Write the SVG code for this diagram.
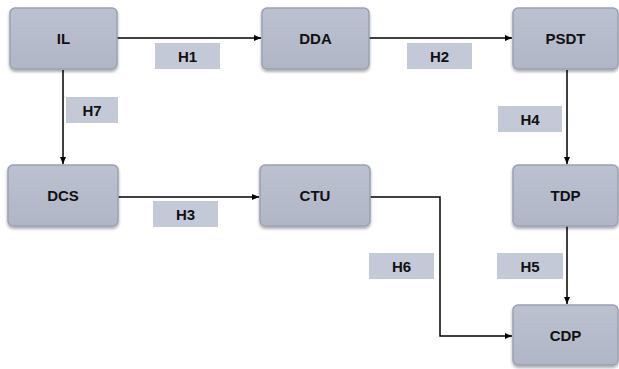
<svg xmlns="http://www.w3.org/2000/svg" width="619" height="369" viewBox="0 0 619 369">
<defs>
<linearGradient id="g" x1="0" y1="0" x2="0" y2="1">
<stop offset="0" stop-color="#bcc1d0"/>
<stop offset="1" stop-color="#b1b6c7"/>
</linearGradient>
<filter id="sh" x="-10%" y="-10%" width="120%" height="130%">
<feGaussianBlur in="SourceAlpha" stdDeviation="1.5"/>
<feOffset dx="0" dy="1.5"/>
<feComponentTransfer><feFuncA type="linear" slope="0.35"/></feComponentTransfer>
<feMerge><feMergeNode/><feMergeNode in="SourceGraphic"/></feMerge>
</filter>
<marker id="ah" markerWidth="8" markerHeight="8" refX="7" refY="4" orient="auto" markerUnits="userSpaceOnUse">
<path d="M0,1 L7,4 L0,7 Z" fill="#000"/>
</marker>
</defs>
<style>
.box{fill:url(#g);stroke:#9ba1b3;stroke-width:1.5;filter:url(#sh)}
.lbl{fill:#c4c9d7}
text{font-family:"Liberation Sans",Arial,sans-serif;font-weight:bold;font-size:15px;fill:#111;text-anchor:middle;dominant-baseline:central}
.c{fill:none;stroke:#000;stroke-width:1.5;marker-end:url(#ah)}
</style>
<rect width="619" height="369" fill="#fff"/>
<g id="connectors">
<path class="c" d="M117,38 H261"/>
<path class="c" d="M369,38 H512"/>
<path class="c" d="M567,70 V164"/>
<path class="c" d="M63,70 V164"/>
<path class="c" d="M118,197 H259"/>
<path class="c" d="M370,197 H440 V336 H512"/>
<path class="c" d="M567,226 V304"/>
</g>
<g id="labels">
<g id="H1"><rect class="lbl" x="155" y="43" width="65" height="26"/><text x="187.5" y="56">H1</text></g>
<g id="H2"><rect class="lbl" x="407" y="43" width="65" height="26"/><text x="439.5" y="56">H2</text></g>
<g id="H7"><rect class="lbl" x="66" y="97" width="52" height="26"/><text x="92" y="110">H7</text></g>
<g id="H4"><rect class="lbl" x="498" y="106" width="64" height="26"/><text x="530" y="119">H4</text></g>
<g id="H3"><rect class="lbl" x="153" y="201" width="65" height="26"/><text x="185.5" y="214">H3</text></g>
<g id="H6"><rect class="lbl" x="369" y="253" width="65" height="26"/><text x="401.5" y="266">H6</text></g>
<g id="H5"><rect class="lbl" x="497" y="253" width="66" height="26"/><text x="530" y="266">H5</text></g>
</g>
<g id="IL"><rect class="box" x="10" y="8" width="107" height="61" rx="5"/><text x="63.5" y="38.5">IL</text></g>
<g id="DDA"><rect class="box" x="262" y="8" width="107" height="61" rx="5"/><text x="315.5" y="38.5">DDA</text></g>
<g id="PSDT"><rect class="box" x="513" y="8" width="105" height="61" rx="5"/><text x="565.5" y="38.5">PSDT</text></g>
<g id="DCS"><rect class="box" x="8" y="165" width="110" height="61" rx="5"/><text x="63" y="195.5">DCS</text></g>
<g id="CTU"><rect class="box" x="260" y="165" width="110" height="61" rx="5"/><text x="315" y="195.5">CTU</text></g>
<g id="TDP"><rect class="box" x="513" y="165" width="105" height="61" rx="5"/><text x="565.5" y="195.5">TDP</text></g>
<g id="CDP"><rect class="box" x="513" y="305" width="105" height="60" rx="5"/><text x="565.5" y="335">CDP</text></g>
</svg>
